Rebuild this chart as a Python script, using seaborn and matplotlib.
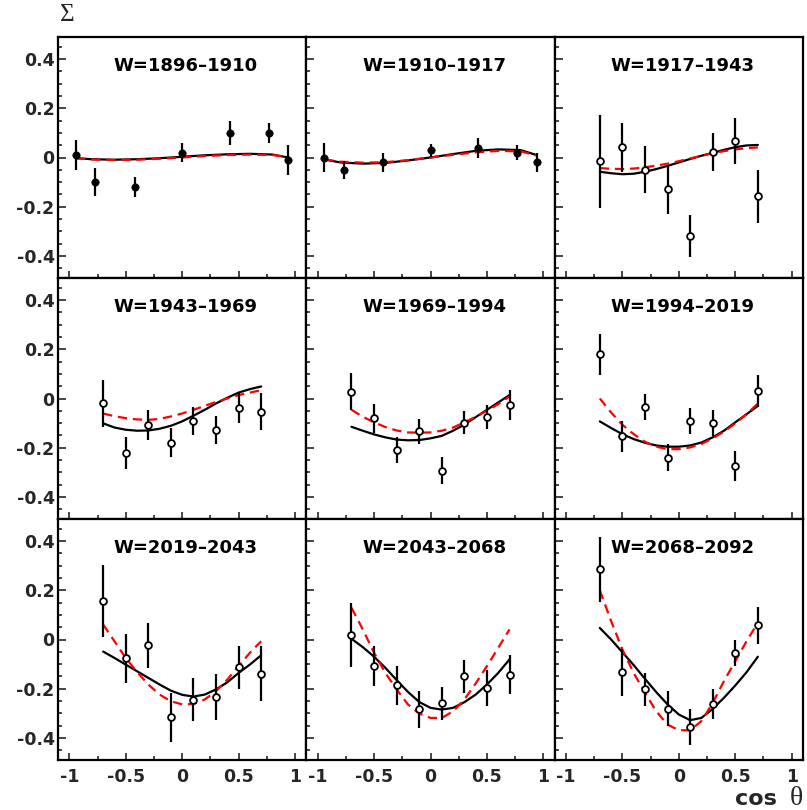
import numpy as np
import pandas as pd
import matplotlib
matplotlib.use("Agg")
import matplotlib.pyplot as plt
import seaborn as sns
from matplotlib.ticker import MultipleLocator, FuncFormatter

# ---------------- data ----------------
TITLES = ["W=1896\u20131910", "W=1910\u20131917", "W=1917\u20131943",
          "W=1943\u20131969", "W=1969\u20131994", "W=1994\u20132019",
          "W=2019\u20132043", "W=2043\u20132068", "W=2068\u20132092"]

COS_LOW = [-0.94, -0.77, -0.42, 0.0, 0.42, 0.77, 0.94]
COS_HIGH = [-0.7, -0.5, -0.3, -0.1, 0.1, 0.3, 0.5, 0.7]

SIGMA_1 = [0.01, -0.10, -0.12, 0.02, 0.10, 0.10, -0.01]
ERR_1 = [0.06, 0.057, 0.04, 0.04, 0.05, 0.04, 0.06]
SIGMA_2 = [0.0, -0.05, -0.02, 0.03, 0.04, 0.02, -0.02]
ERR_2 = [0.058, 0.036, 0.04, 0.026, 0.04, 0.03, 0.04]
SIGMA_3 = [-0.016, 0.041, -0.049, -0.13, -0.318, 0.022, 0.066, -0.157]
ERR_3 = [0.19, 0.098, 0.097, 0.10, 0.086, 0.077, 0.094, 0.108]
SIGMA_4 = [-0.02, -0.222, -0.107, -0.179, -0.091, -0.129, -0.037, -0.053]
ERR_4 = [0.097, 0.066, 0.06, 0.06, 0.056, 0.057, 0.062, 0.074]
SIGMA_5 = [0.028, -0.081, -0.209, -0.134, -0.293, -0.098, -0.075, -0.028]
ERR_5 = [0.074, 0.058, 0.054, 0.05, 0.055, 0.047, 0.05, 0.061]
SIGMA_6 = [0.179, -0.154, -0.035, -0.24, -0.091, -0.10, -0.275, 0.031]
ERR_6 = [0.083, 0.064, 0.052, 0.054, 0.054, 0.054, 0.061, 0.064]
SIGMA_7 = [0.155, -0.077, -0.023, -0.316, -0.245, -0.235, -0.113, -0.14]
ERR_7 = [0.146, 0.10, 0.092, 0.10, 0.088, 0.094, 0.087, 0.112]
SIGMA_8 = [0.019, -0.108, -0.186, -0.283, -0.26, -0.15, -0.198, -0.144]
ERR_8 = [0.129, 0.082, 0.079, 0.075, 0.068, 0.066, 0.072, 0.079]
SIGMA_9 = [0.285, -0.133, -0.203, -0.281, -0.354, -0.263, -0.054, 0.058]
ERR_9 = [0.133, 0.095, 0.067, 0.07, 0.073, 0.061, 0.054, 0.075]

CURVE_X_LOW = [-0.94, -0.8, -0.6, -0.4, -0.2, 0.0, 0.2, 0.4, 0.6, 0.8, 0.94]
CURVE_X_HIGH = [-0.7, -0.6, -0.5, -0.4, -0.3, -0.2, -0.1, 0.0,
                0.1, 0.2, 0.3, 0.4, 0.5, 0.6, 0.7]

FIT_BLACK_1 = [-0.003, -0.007, -0.009, -0.007, -0.003, 0.003, 0.009, 0.013, 0.015, 0.012, 0.0]
FIT_RED_1 = [-0.002, -0.008, -0.010, -0.009, -0.005, 0.0, 0.006, 0.010, 0.012, 0.010, 0.002]
FIT_BLACK_2 = [-0.008, -0.020, -0.025, -0.022, -0.012, 0.0, 0.014, 0.027, 0.033, 0.030, 0.010]
FIT_RED_2 = [-0.008, -0.017, -0.021, -0.019, -0.011, 0.0, 0.011, 0.021, 0.027, 0.025, 0.008]
FIT_BLACK_3 = [-0.058, -0.064, -0.068, -0.066, -0.058, -0.047, -0.034, -0.020,
               -0.006, 0.007, 0.019, 0.031, 0.042, 0.049, 0.051]
FIT_RED_3 = [-0.043, -0.046, -0.047, -0.045, -0.040, -0.033, -0.025, -0.015,
             -0.004, 0.007, 0.017, 0.026, 0.033, 0.038, 0.041]
FIT_BLACK_4 = [-0.101, -0.118, -0.127, -0.131, -0.130, -0.123, -0.111, -0.093,
               -0.070, -0.046, -0.020, 0.003, 0.024, 0.038, 0.049]
FIT_RED_4 = [-0.061, -0.072, -0.080, -0.085, -0.087, -0.083, -0.073, -0.061,
             -0.046, -0.030, -0.014, 0.0, 0.014, 0.024, 0.034]
FIT_BLACK_5 = [-0.115, -0.131, -0.146, -0.158, -0.167, -0.170, -0.169, -0.162,
               -0.152, -0.131, -0.106, -0.076, -0.046, -0.016, 0.014]
FIT_RED_5 = [-0.046, -0.074, -0.097, -0.116, -0.130, -0.138, -0.139, -0.138,
             -0.131, -0.118, -0.097, -0.074, -0.050, -0.023, 0.008]
FIT_BLACK_6 = [-0.093, -0.120, -0.145, -0.165, -0.180, -0.191, -0.196, -0.196,
               -0.191, -0.179, -0.158, -0.131, -0.097, -0.064, -0.030]
FIT_RED_6 = [0.0, -0.057, -0.107, -0.145, -0.176, -0.196, -0.206, -0.206,
             -0.199, -0.185, -0.162, -0.135, -0.101, -0.064, -0.020]
FIT_BLACK_7 = [-0.049, -0.075, -0.102, -0.129, -0.156, -0.183, -0.208, -0.225,
               -0.232, -0.224, -0.203, -0.174, -0.136, -0.102, -0.064]
FIT_RED_7 = [0.061, -0.007, -0.075, -0.132, -0.183, -0.224, -0.251, -0.264,
             -0.262, -0.244, -0.210, -0.163, -0.108, -0.054, -0.007]
FIT_BLACK_8 = [0.003, -0.031, -0.070, -0.115, -0.165, -0.213, -0.254, -0.278,
               -0.285, -0.278, -0.255, -0.224, -0.183, -0.136, -0.081]
FIT_RED_8 = [0.129, 0.041, -0.054, -0.136, -0.203, -0.264, -0.301, -0.319,
             -0.319, -0.292, -0.244, -0.179, -0.108, -0.034, 0.041]
FIT_BLACK_9 = [0.047, 0.0, -0.052, -0.104, -0.160, -0.214, -0.264, -0.305,
               -0.328, -0.319, -0.282, -0.237, -0.187, -0.133, -0.070]
FIT_RED_9 = [0.200, 0.075, -0.041, -0.136, -0.217, -0.292, -0.346, -0.369,
             -0.369, -0.332, -0.258, -0.169, -0.088, -0.007, 0.068]

FILLED = [True, True, False, False, False, False, False, False, False]

PANELS = [
    (COS_LOW, SIGMA_1, ERR_1, CURVE_X_LOW, FIT_BLACK_1, FIT_RED_1),
    (COS_LOW, SIGMA_2, ERR_2, CURVE_X_LOW, FIT_BLACK_2, FIT_RED_2),
    (COS_HIGH, SIGMA_3, ERR_3, CURVE_X_HIGH, FIT_BLACK_3, FIT_RED_3),
    (COS_HIGH, SIGMA_4, ERR_4, CURVE_X_HIGH, FIT_BLACK_4, FIT_RED_4),
    (COS_HIGH, SIGMA_5, ERR_5, CURVE_X_HIGH, FIT_BLACK_5, FIT_RED_5),
    (COS_HIGH, SIGMA_6, ERR_6, CURVE_X_HIGH, FIT_BLACK_6, FIT_RED_6),
    (COS_HIGH, SIGMA_7, ERR_7, CURVE_X_HIGH, FIT_BLACK_7, FIT_RED_7),
    (COS_HIGH, SIGMA_8, ERR_8, CURVE_X_HIGH, FIT_BLACK_8, FIT_RED_8),
    (COS_HIGH, SIGMA_9, ERR_9, CURVE_X_HIGH, FIT_BLACK_9, FIT_RED_9),
]

# ---------------- style ----------------
sns.set_style("ticks")
plt.rcParams["font.family"] = ["DejaVu Sans"]
plt.rcParams["axes.unicode_minus"] = False

W, H = 807, 810
fig = plt.figure(figsize=(W / 100, H / 100), dpi=100)
gs = fig.add_gridspec(3, 3, left=58 / W, right=803 / W,
                      top=1 - 37 / H, bottom=1 - 760 / H,
                      wspace=0, hspace=0)


def fmt(v, pos):
    if abs(v) < 1e-9:
        return "0"
    return f"{v:g}"


for i, (cx, sy, se, fx, fb, fr) in enumerate(PANELS):
    r, c = divmod(i, 3)
    ax = fig.add_subplot(gs[r, c])
    ax.set_facecolor("white")

    # fits
    sns.lineplot(x=fx, y=fb, ax=ax, color="black", lw=1.6, zorder=2,
                 sort=False, legend=False)
    sns.lineplot(x=fx, y=fr, ax=ax, color="red", lw=1.6, zorder=3,
                 sort=False, legend=False, dashes=False)
    ax.lines[-1].set_dashes((4.2, 2.6))

    # data
    ax.errorbar(cx, sy, yerr=se, fmt="none", ecolor="black",
                elinewidth=1.6, capsize=0, zorder=4)
    sns.scatterplot(x=cx, y=sy, ax=ax, marker="o",
                    s=28 if FILLED[i] else 24,
                    color="black" if FILLED[i] else "white",
                    edgecolor="black", linewidth=1.3 if not FILLED[i] else 0.5,
                    zorder=5, legend=False)

    ax.set_xlim(-1.1, 1.1)
    ax.set_ylim(-0.49, 0.49)
    ax.xaxis.set_major_locator(MultipleLocator(0.5))
    ax.xaxis.set_minor_locator(MultipleLocator(0.25))
    ax.yaxis.set_major_locator(MultipleLocator(0.2))
    ax.yaxis.set_minor_locator(MultipleLocator(0.05))
    ax.xaxis.set_major_formatter(FuncFormatter(fmt))
    ax.yaxis.set_major_formatter(FuncFormatter(fmt))
    ax.tick_params(axis="x", which="major", direction="in", length=5,
                   width=1.2, pad=5.5, labelsize=12.5)
    ax.tick_params(axis="x", which="minor", direction="in", length=3,
                   width=1.2)
    ax.tick_params(axis="y", which="major", direction="in", length=5.5,
                   width=1.2, pad=2.5, labelsize=12.5)
    ax.tick_params(axis="y", which="minor", direction="in", length=3,
                   width=1.2)
    ax.tick_params(top=False, right=False, which="both")
    for lab in ax.get_xticklabels() + ax.get_yticklabels():
        lab.set_fontweight("bold")
    if c != 0:
        ax.tick_params(axis="y", labelleft=False)
    if r != 2:
        ax.tick_params(axis="x", labelbottom=False)
    for sp in ax.spines.values():
        sp.set_visible(True)
        sp.set_linewidth(1.6)
        sp.set_color("black")
    ax.set_xlabel("")
    ax.set_ylabel("")

    ax.text(0.515, 0.86, TITLES[i], transform=ax.transAxes, ha="center",
            va="baseline", fontsize=13, fontweight="bold", color="black")

fig.text(67 / W, 1 - 15 / H, "\u03a3", ha="center", va="center",
         fontsize=18, family=["Liberation Serif", "DejaVu Serif"])
fig.text(777 / W, 1 - 805 / H, "cos", ha="right", va="baseline",
         fontsize=16, fontweight="bold")
fig.text(803 / W, 1 - 805 / H, "\u03b8", ha="right", va="baseline",
         fontsize=20, family=["Liberation Serif", "DejaVu Serif"])

fig.savefig("out.png", dpi=100, facecolor="white")
